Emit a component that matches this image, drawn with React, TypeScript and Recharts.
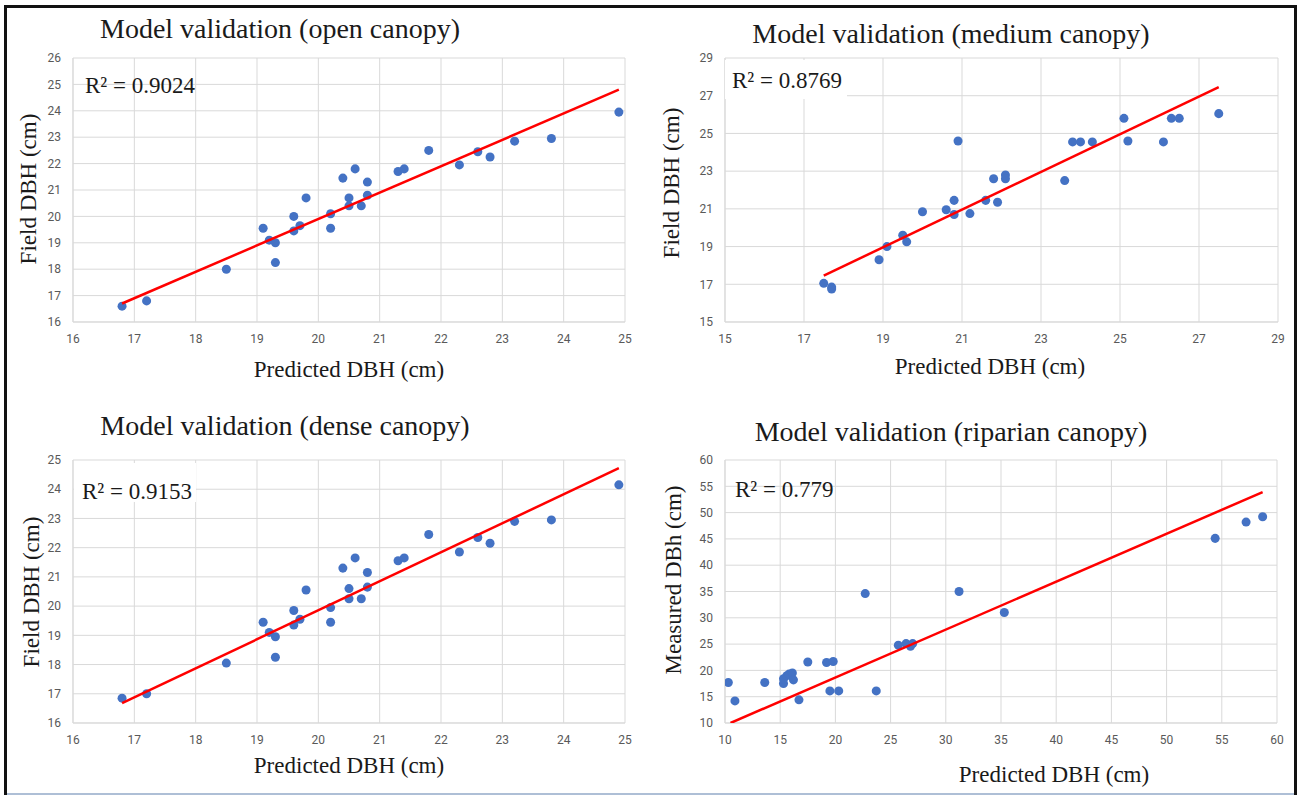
import { ScatterChart, Scatter, XAxis, YAxis, ZAxis, CartesianGrid } from "recharts";

// open canopy
const openPredicted = [16.8, 17.2, 18.5, 19.1, 19.2, 19.3, 19.3, 19.6, 19.6, 19.7, 19.8, 20.2, 20.2, 20.4, 20.5, 20.5, 20.6, 20.7, 20.8, 20.8, 21.3, 21.4, 21.8, 22.3, 22.6, 22.8, 23.2, 23.8, 24.9];
const openField = [16.6, 16.8, 18.0, 19.55, 19.1, 19.0, 18.25, 20.0, 19.45, 19.65, 20.7, 20.1, 19.55, 21.45, 20.7, 20.4, 21.8, 20.4, 21.3, 20.8, 21.7, 21.8, 22.5, 21.95, 22.45, 22.25, 22.85, 22.95, 23.95];
const openTrend = [
  { x: 16.8, y: 16.7 },
  { x: 24.9, y: 24.8 },
];
const openTicks = [16, 17, 18, 19, 20, 21, 22, 23, 24, 25];
const openYTicks = [16, 17, 18, 19, 20, 21, 22, 23, 24, 25, 26];

// medium canopy
const mediumPredicted = [17.5, 17.7, 17.7, 18.9, 19.1, 19.5, 19.6, 20.0, 20.6, 20.8, 20.8, 20.9, 21.2, 21.6, 21.8, 21.9, 22.1, 22.1, 23.6, 23.8, 24.0, 24.3, 25.1, 25.2, 26.1, 26.3, 26.5, 27.5];
const mediumField = [17.05, 16.85, 16.75, 18.3, 19.0, 19.6, 19.25, 20.85, 20.95, 21.45, 20.7, 24.6, 20.75, 21.45, 22.6, 21.35, 22.8, 22.6, 22.5, 24.55, 24.55, 24.55, 25.8, 24.6, 24.55, 25.8, 25.8, 26.05];
const mediumTrend = [
  { x: 17.5, y: 17.46 },
  { x: 27.5, y: 27.46 },
];
const mediumTicks = [15, 17, 19, 21, 23, 25, 27, 29];

// dense canopy
const densePredicted = [16.8, 17.2, 18.5, 19.1, 19.2, 19.3, 19.3, 19.6, 19.6, 19.7, 19.8, 20.2, 20.2, 20.4, 20.5, 20.5, 20.6, 20.7, 20.8, 20.8, 21.3, 21.4, 21.8, 22.3, 22.6, 22.8, 23.2, 23.8, 24.9];
const denseField = [16.85, 17.0, 18.05, 19.45, 19.1, 18.95, 18.25, 19.85, 19.35, 19.55, 20.55, 19.95, 19.45, 21.3, 20.6, 20.25, 21.65, 20.25, 21.15, 20.65, 21.55, 21.65, 22.45, 21.85, 22.35, 22.15, 22.9, 22.95, 24.15];
const denseTrend = [
  { x: 16.8, y: 16.68 },
  { x: 24.9, y: 24.72 },
];
const denseXTicks = [16, 17, 18, 19, 20, 21, 22, 23, 24, 25];
const denseYTicks = [16, 17, 18, 19, 20, 21, 22, 23, 24, 25];

// riparian canopy
const riparianPredicted = [10.3, 10.9, 13.6, 15.3, 15.3, 15.6, 15.8, 16.1, 16.2, 16.7, 17.5, 19.2, 19.8, 19.5, 20.3, 22.7, 23.7, 25.7, 26.4, 26.8, 27.0, 31.2, 35.3, 54.4, 57.2, 58.7];
const riparianMeasured = [17.7, 14.2, 17.7, 17.5, 18.4, 19.0, 19.3, 19.5, 18.2, 14.4, 21.6, 21.5, 21.7, 16.1, 16.1, 34.6, 16.1, 24.8, 25.1, 24.6, 25.1, 35.0, 31.0, 45.1, 48.2, 49.2];
const riparianTrend = [
  { x: 10.5, y: 10 },
  { x: 58.7, y: 53.9 },
];
const riparianTicks = [10, 15, 20, 25, 30, 35, 40, 45, 50, 55, 60];

const zip = (xs: number[], ys: number[]) => xs.map((x, i) => ({ x, y: ys[i] }));

const GRID = "#d9d9d9";
const DOT = "#4472c4";
const TREND = "#ff0000";
const serif = "'Liberation Serif', 'Times New Roman', serif";
const tickStyle = { fontSize: 12, fill: "#595959", fontFamily: "Roboto, 'Liberation Sans', sans-serif" };

interface PanelProps {
  left: number;
  top: number;
  width: number;
  height: number;
  plotTop: number;
  plotRight: number;
  yAxisWidth: number;
  xAxisHeight: number;
  points: { x: number; y: number }[];
  trend: { x: number; y: number }[];
  xTicks: number[];
  yTicks: number[];
}

function Panel(p: PanelProps) {
  const xDomain = [p.xTicks[0], p.xTicks[p.xTicks.length - 1]];
  const yDomain = [p.yTicks[0], p.yTicks[p.yTicks.length - 1]];
  return (
    <div style={{ position: "absolute", left: p.left, top: p.top }}>
      <ScatterChart
        width={p.width}
        height={p.height}
        margin={{ top: p.plotTop, right: p.plotRight, bottom: 0, left: 0 }}
      >
        <CartesianGrid stroke={GRID} strokeWidth={1} />
        <XAxis
          type="number"
          dataKey="x"
          domain={xDomain}
          ticks={p.xTicks}
          interval={0}
          height={p.xAxisHeight}
          axisLine={{ stroke: GRID }}
          tickLine={false}
          tickMargin={6}
          tick={tickStyle}
          allowDataOverflow
        />
        <YAxis
          type="number"
          dataKey="y"
          domain={yDomain}
          ticks={p.yTicks}
          interval={0}
          width={p.yAxisWidth}
          axisLine={{ stroke: GRID }}
          tickLine={false}
          tickMargin={6}
          tick={tickStyle}
          allowDataOverflow
        />
        <ZAxis range={[48, 48]} />
        <Scatter data={p.points} fill={DOT} shape="circle" isAnimationActive={false} />
        <Scatter
          data={p.trend}
          line={{ stroke: TREND, strokeWidth: 2.5 }}
          shape={() => <g />}
          isAnimationActive={false}
        />
      </ScatterChart>
    </div>
  );
}

export default function App() {
  return (
    <div style={{ position: "absolute", left: 0, top: 0, width: 1298, height: 795, background: "#fff", overflow: "hidden" }}>
      <Panel left={0} top={0} width={650} height={400} plotTop={58} plotRight={25} yAxisWidth={73} xAxisHeight={78}
        points={zip(openPredicted, openField)} trend={openTrend} xTicks={openTicks} yTicks={openYTicks} />
      <Panel left={650} top={0} width={648} height={400} plotTop={58} plotRight={20} yAxisWidth={75} xAxisHeight={78}
        points={zip(mediumPredicted, mediumField)} trend={mediumTrend} xTicks={mediumTicks} yTicks={mediumTicks} />
      <Panel left={0} top={400} width={650} height={395} plotTop={60} plotRight={25} yAxisWidth={73} xAxisHeight={72}
        points={zip(densePredicted, denseField)} trend={denseTrend} xTicks={denseXTicks} yTicks={denseYTicks} />
      <Panel left={650} top={400} width={648} height={395} plotTop={60} plotRight={21} yAxisWidth={75} xAxisHeight={72}
        points={zip(riparianPredicted, riparianMeasured)} trend={riparianTrend} xTicks={riparianTicks} yTicks={riparianTicks} />

      <svg width={1298} height={795} style={{ position: "absolute", left: 0, top: 0, pointerEvents: "none" }}>
        {/* R² boxes that hide the grid behind them */}
        <rect x={725} y={60} width={122} height={39} fill="#fff" />
        <rect x={74} y={463} width={122} height={39} fill="#fff" />

        <g fontFamily={serif} fill="#1a1a1a">
          <text x={280} y={38} fontSize={28} textAnchor="middle">Model validation (open canopy)</text>
          <text x={951} y={43} fontSize={28} textAnchor="middle">Model validation (medium canopy)</text>
          <text x={285} y={435} fontSize={28} textAnchor="middle">Model validation (dense canopy)</text>
          <text x={951} y={441} fontSize={28} textAnchor="middle">Model validation (riparian canopy)</text>

          <text x={349} y={377} fontSize={23} textAnchor="middle">Predicted DBH (cm)</text>
          <text x={990} y={374} fontSize={23} textAnchor="middle">Predicted DBH (cm)</text>
          <text x={349} y={773} fontSize={23} textAnchor="middle">Predicted DBH (cm)</text>
          <text x={1054} y={782} fontSize={23} textAnchor="middle">Predicted DBH (cm)</text>

          <text transform="translate(36,189) rotate(-90)" fontSize={23} textAnchor="middle">Field DBH (cm)</text>
          <text transform="translate(679,183) rotate(-90)" fontSize={23} textAnchor="middle">Field DBH (cm)</text>
          <text transform="translate(39,592) rotate(-90)" fontSize={23} textAnchor="middle">Field DBH (cm)</text>
          <text transform="translate(681,580) rotate(-90)" fontSize={23} textAnchor="middle">Measured DBh (cm)</text>

          <text x={85} y={93} fontSize={23}>R² = 0.9024</text>
          <text x={732} y={88} fontSize={23}>R² = 0.8769</text>
          <text x={82} y={499} fontSize={23}>R² = 0.9153</text>
          <text x={735} y={497} fontSize={23}>R² = 0.779</text>
        </g>

        {/* outer frame */}
        <rect x={4} y={5} width={1293} height={3} fill="#111" />
        <rect x={4} y={5} width={3} height={790} fill="#111" />
        <rect x={1294} y={5} width={3} height={790} fill="#111" />
        <rect x={7} y={793} width={1287} height={2} fill="#aebfd6" />
      </svg>
    </div>
  );
}
